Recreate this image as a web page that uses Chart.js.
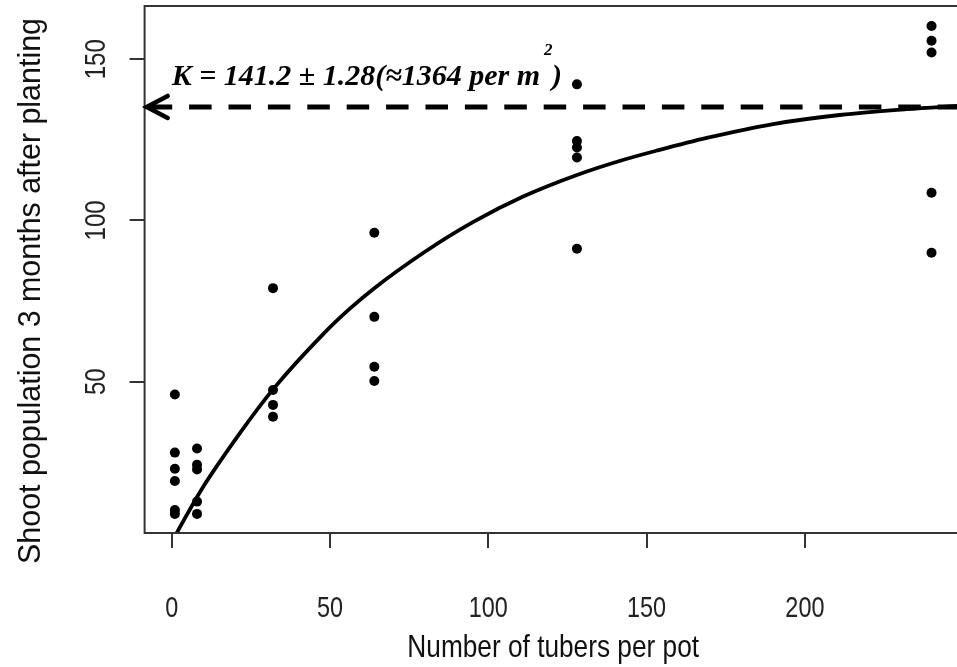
<!DOCTYPE html>
<html><head><meta charset="utf-8">
<script src="https://cdn.jsdelivr.net/npm/chart.js@4"></script>
<style>html,body{margin:0;padding:0;background:#fff;overflow:hidden;width:957px;height:667px}canvas{display:block}</style>
</head><body>
<canvas id="c" width="970" height="667"></canvas>
<script>
// ---- data ----
const tubersPerPot = [1, 8, 32, 64, 128, 240];
const shootsAt1   = [46, 28, 23, 19.2, 10.2, 9];
const shootsAt8   = [29.3, 24.2, 22.8, 12.8, 9];
const shootsAt32  = [79, 47.4, 42.8, 39.1];
const shootsAt64  = [96.2, 70.1, 54.6, 50.2];
const shootsAt128 = [142.2, 124.6, 122.6, 119.5, 91.2];
const shootsAt240 = [160.3, 155.7, 152.1, 108.6, 90.0];
const shootGroups = [shootsAt1, shootsAt8, shootsAt32, shootsAt64, shootsAt128, shootsAt240];

const fitX = [0, 1.6, 9, 21.6, 32, 48, 56, 64, 80, 95, 111, 128, 143, 153, 169, 190, 211, 232, 249.5];
const fitY = [0.3, 3.1, 15.9, 34.1, 47.6, 64.9, 72.4, 79.0, 90.3, 99.4, 107.4, 114.1, 118.9, 121.6, 125.6, 129.9, 132.7, 134.5, 135.6];

const kLevel = 135.2;          // dashed asymptote
const kArrowX = [-7.9, 249.56]; // arrow from tip to the right edge
const kLabelMain = "K = 141.2 \u00b1 1.28(\u22481364 per m";
const kLabelSup = "2";
const kLabelClose = ")";

const xTicks = [0, 50, 100, 150, 200];
const yTicks = [50, 100, 150];
const xTitle = "Number of tubers per pot";
const yTitle = "Shoot population 3 months after planting";

// ---- build datasets ----
const scatterPts = [];
shootGroups.forEach((g, i) => g.forEach(v => scatterPts.push({x: tubersPerPot[i], y: v})));
const fitPts = fitX.map((x, i) => ({x, y: fitY[i]}));
const kPts = kArrowX.map(x => ({x, y: kLevel}));

const sansFont = '"Liberation Sans", Arial, sans-serif';

function narrowText(ctx, text, x, y, rot, sx) {
  ctx.save();
  ctx.translate(x, y);
  if (rot) ctx.rotate(rot);
  ctx.scale(sx, 1);
  ctx.fillText(text, 0, 0);
  ctx.restore();
}

const drawPlugin = {
  id: 'rstyle',
  afterDraw(chart) {
    const {ctx, chartArea: a, scales: {x: xs, y: ys}} = chart;
    ctx.save();
    // plot box
    ctx.strokeStyle = '#333';
    ctx.lineWidth = 2;
    ctx.strokeRect(a.left, a.top, a.right - a.left, a.bottom - a.top);
    // arrow head
    const tx = xs.getPixelForValue(kArrowX[0]);
    const ty = ys.getPixelForValue(kLevel);
    ctx.strokeStyle = '#000';
    ctx.lineWidth = 4.5;
    ctx.lineJoin = 'miter';
    ctx.lineCap = 'round';
    ctx.beginPath();
    ctx.moveTo(tx + 21, ty - 11);
    ctx.lineTo(tx, ty);
    ctx.lineTo(tx + 21, ty + 11);
    ctx.stroke();
    // tick labels
    ctx.fillStyle = '#222';
    ctx.font = '30px ' + sansFont;
    ctx.textAlign = 'center';
    ctx.textBaseline = 'middle';
    xTicks.forEach(v => narrowText(ctx, String(v), xs.getPixelForValue(v), a.bottom + 76, 0, 0.78));
    yTicks.forEach(v => narrowText(ctx, String(v), a.left - 48, ys.getPixelForValue(v), -Math.PI / 2, 0.8));
    // titles
    ctx.fillStyle = '#111';
    ctx.font = '32px ' + sansFont;
    narrowText(ctx, xTitle, (a.left + a.right) / 2, 648, 0, 0.82);
    narrowText(ctx, yTitle, 31, 291, -Math.PI / 2, 0.95);
    // annotation
    ctx.fillStyle = '#000';
    ctx.textAlign = 'left';
    ctx.textBaseline = 'alphabetic';
    ctx.font = 'italic bold 30px "Liberation Serif", "Times New Roman", serif';
    const lx = xs.getPixelForValue(0);
    const ly = ys.getPixelForValue(141.9);
    ctx.fillText(kLabelMain, lx, ly);
    const w = ctx.measureText(kLabelMain).width;
    ctx.fillText(kLabelClose, lx + w + 12, ly);
    ctx.font = 'italic bold 17px "Liberation Serif", "Times New Roman", serif';
    ctx.fillText(kLabelSup, lx + w + 4, ly - 30);
    ctx.restore();
  }
};

const axisCommon = {
  type: 'linear',
  display: true,
  grid: {display: true, drawOnChartArea: false, drawTicks: true, tickLength: 15, color: '#333', lineWidth: 2},
  border: {display: false},
  ticks: {display: false},
  title: {display: false}
};

new Chart(document.getElementById('c'), {
  type: 'scatter',
  data: {
    datasets: [
      {data: scatterPts, pointRadius: 5, pointHoverRadius: 5, backgroundColor: '#000', borderWidth: 0, order: 1},
      {data: fitPts, showLine: true, pointRadius: 0, borderColor: '#000', borderWidth: 3.8,
       cubicInterpolationMode: 'monotone', order: 2},
      {data: kPts, showLine: true, pointRadius: 0, borderColor: '#000', borderWidth: 5,
       borderDash: [22.5, 16.9], borderDashOffset: 36.4, borderCapStyle: 'butt', order: 3}
    ]
  },
  options: {
    responsive: false,
    animation: false,
    devicePixelRatio: 1,
    layout: {padding: {left: 129.6, right: 8.2, top: 6, bottom: 119}},
    plugins: {legend: {display: false}, tooltip: {enabled: false}},
    scales: {
      x: Object.assign({}, axisCommon, {min: -8.56, max: 249.56,
        afterBuildTicks: ax => { ax.ticks = xTicks.map(v => ({value: v})); }}),
      y: Object.assign({}, axisCommon, {min: 3.07, max: 166.5,
        afterBuildTicks: ax => { ax.ticks = yTicks.map(v => ({value: v})); }})
    }
  },
  plugins: [drawPlugin]
});
</script>
</body></html>
